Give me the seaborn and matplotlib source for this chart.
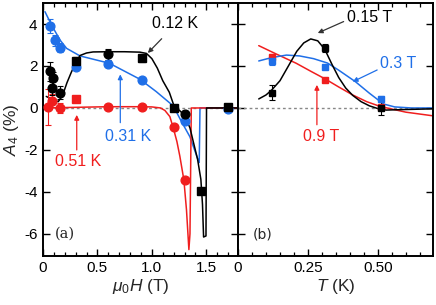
import numpy as np
import pandas as pd
import seaborn as sns
import matplotlib.pyplot as plt

# colours
BLACK = '#000000'
BLUE = '#1f6fe8'
RED = '#f01e1e'

# ---- panel (a): A4 vs field ----
# 0.12 K
blk_c_x = [0.06, 0.095, 0.08, 0.155, 0.60, 1.30]
blk_c_y = [1.75, 1.41, 0.94, 0.73, 2.55, -0.28]
blk_c_e = [0.45, 0.30, 0.30, 0.30, 0.25, 0.15]
blk_s_x = [0.30, 0.91, 1.20, 1.45, 1.70]
blk_s_y = [2.22, 2.38, 0.02, -3.98, 0.05]
blk_s_e = [0.20, 0.20, 0.10, 0.10, 0.10]
blk_fit_x = [0.03, 0.08, 0.14, 0.18, 0.22, 0.26, 0.30, 0.34, 0.40, 0.46, 0.60, 0.75,
             0.89, 0.95, 1.00, 1.05, 1.10, 1.16, 1.20, 1.25, 1.30, 1.35, 1.38, 1.42,
             1.45, 1.465, 1.475, 1.497, 1.502, 1.79]
blk_fit_y = [0.55, 0.42, 0.30, 0.60, 1.20, 1.70, 2.15, 2.50, 2.62, 2.67, 2.68, 2.68,
             2.66, 2.60, 2.35, 1.90, 1.30, 0.75, 0.15, -0.10, -0.35, -0.95, -1.60, -2.45,
             -3.40, -4.60, -6.15, -6.10, 0.0, 0.0]

# 0.31 K
blu_x = [0.06, 0.11, 0.16, 0.30, 0.60, 0.91, 1.30, 1.70]
blu_y = [3.90, 3.22, 2.88, 1.97, 2.10, 1.31, -0.62, -0.05]
blu_e = [0.35, 0.25, 0.20, 0.15, 0.10, 0.10, 0.10, 0.05]
blu_fit_x = [0.018, 0.06, 0.095, 0.156, 0.217, 0.34, 0.61, 0.89, 1.04, 1.196, 1.272,
             1.349, 1.425, 1.435, 1.442, 1.79]
blu_fit_y = [4.59, 4.15, 3.80, 3.24, 2.84, 2.48, 2.13, 1.37, 0.78, 0.10, -0.65,
             -1.37, -2.48, -2.60, 0.0, 0.0]

# 0.51 K
red_x = [0.05, 0.08, 0.155, 0.60, 0.91, 1.20, 1.30]
red_y = [0.05, 0.35, 0.0, 0.06, 0.06, -0.92, -3.45]
red_e = [0.85, 0.30, 0.25, 0.05, 0.05, 0.05, 0.05]
red_s_x = [0.30]
red_s_y = [0.45]
red_fit_x = [0.03, 0.30, 0.60, 0.90, 1.00, 1.08, 1.12, 1.165, 1.196, 1.23, 1.257,
             1.294, 1.318, 1.34, 1.35, 1.362, 1.79]
red_fit_y = [0.0, 0.03, 0.06, 0.06, 0.05, 0.0, -0.12, -0.41, -0.94, -1.60, -2.30,
             -3.43, -4.86, -6.75, -6.0, 0.0, 0.0]

# ---- panel (b): A4 vs temperature ----
t_pts = [0.12, 0.31, 0.51]
b015_y = [0.73, 2.87, 0.0]
b015_e = [0.35, 0.20, 0.35]
b03_y = [2.24, 1.97, 0.43]
b03_e = [0.20, 0.08, 0.15]
b09_y = [2.45, 1.33, 0.06]
b09_e = [0.10, 0.08, 0.10]

b015_fit_x = [0.074, 0.10, 0.12, 0.15, 0.18, 0.21, 0.235, 0.26, 0.285, 0.31, 0.335,
              0.36, 0.385, 0.41, 0.44, 0.47, 0.50, 0.53, 0.58, 0.70]
b015_fit_y = [0.43, 0.62, 0.85, 1.30, 2.00, 2.70, 3.10, 3.29, 3.20, 2.80, 2.10,
              1.45, 0.95, 0.60, 0.30, 0.10, -0.03, -0.10, -0.08, -0.04]
b03_fit_x = [0.074, 0.12, 0.173, 0.22, 0.27, 0.32, 0.36, 0.42, 0.47, 0.52, 0.56, 0.62, 0.70]
b03_fit_y = [2.24, 2.40, 2.52, 2.48, 2.35, 2.14, 1.80, 1.25, 0.70, 0.19, 0.05, 0.0, 0.0]
b09_fit_x = [0.074, 0.14, 0.208, 0.26, 0.312, 0.36, 0.41, 0.46, 0.509, 0.60, 0.70]
b09_fit_y = [2.97, 2.55, 2.13, 1.75, 1.38, 1.00, 0.62, 0.30, 0.07, -0.20, -0.38]

sns.set_style('ticks')
plt.rcParams['font.family'] = ['Liberation Sans', 'DejaVu Sans']
plt.rcParams['mathtext.fontset'] = 'custom'
plt.rcParams['mathtext.rm'] = 'Liberation Sans'
plt.rcParams['mathtext.it'] = 'Liberation Sans:italic'
plt.rcParams['axes.unicode_minus'] = False

fig = plt.figure(figsize=(4.36, 3.05), dpi=100)
axa = fig.add_axes([0.0986, 0.161, 0.447, 0.829])
axb = fig.add_axes([0.546, 0.161, 0.447, 0.829])


def fit(ax, x, y, c):
    d = pd.DataFrame({'x': x, 'y': y})
    sns.lineplot(data=d, x='x', y='y', ax=ax, color=c, lw=1.1, sort=False,
                 estimator=None)


def pts(ax, x, y, e, c, m, ms):
    ax.errorbar(x, y, yerr=e, fmt=m, color=c, ms=ms, elinewidth=0.8,
                capsize=2.2, capthick=0.8, zorder=4)


for ax in (axa, axb):
    ax.axhline(0, color='#888888', lw=1.0, ls=(0, (2, 2)), zorder=1)

fit(axa, blu_fit_x, blu_fit_y, BLUE)
fit(axa, red_fit_x, red_fit_y, RED)
fit(axa, blk_fit_x, blk_fit_y, BLACK)
pts(axa, blu_x, blu_y, blu_e, BLUE, 'o', 6.3)
pts(axa, red_x, red_y, red_e, RED, 'o', 6.3)
pts(axa, red_s_x, red_s_y, [0.0], RED, 's', 5.8)
pts(axa, blk_c_x, blk_c_y, blk_c_e, BLACK, 'o', 6.3)
pts(axa, blk_s_x, blk_s_y, blk_s_e, BLACK, 's', 5.8)

fit(axb, b09_fit_x, b09_fit_y, RED)
fit(axb, b03_fit_x, b03_fit_y, BLUE)
fit(axb, b015_fit_x, b015_fit_y, BLACK)
pts(axb, t_pts, b09_y, b09_e, RED, 's', 5)
pts(axb, t_pts, b03_y, b03_e, BLUE, 's', 5)
pts(axb, t_pts, b015_y, b015_e, BLACK, 's', 5)

# annotations
arr = dict(arrowstyle='-|>', lw=0.9, mutation_scale=7, shrinkA=0, shrinkB=0)
axa.text(1.0, 3.68, '0.12 K', fontsize=11.5, color=BLACK, ha='left', va='bottom')
axa.annotate('', xy=(0.963, 2.62), xytext=(1.09, 3.3),
             arrowprops=dict(arr, color='#333333'))
axa.annotate('', xy=(0.71, 1.6), xytext=(0.71, -0.7), arrowprops=dict(arr, color=BLUE))
axa.text(0.78, -1.35, '0.31 K', color=BLUE, fontsize=11.5, ha='center', va='center')
axa.annotate('', xy=(0.31, -0.33), xytext=(0.31, -2.0), arrowprops=dict(arr, color=RED))
axa.text(0.32, -2.57, '0.51 K', color=RED, fontsize=11.5, ha='center', va='center')
axa.text(0.11, -6.0, '(a)', fontsize=10.5, family='DejaVu Serif', va='center')

axb.annotate('0.15 T', xy=(0.285, 3.57), xytext=(0.47, 4.33), fontsize=11.5,
             color=BLACK, ha='center', va='center',
             arrowprops=dict(arr, color='#333333', relpos=(0.0, 0.3)))
axb.annotate('0.3 T', xy=(0.41, 1.25), xytext=(0.574, 2.1), fontsize=11.5,
             color=BLUE, ha='center', va='center',
             arrowprops=dict(arr, color=BLUE, relpos=(0.0, 0.2)))
axb.annotate('', xy=(0.282, 1.1), xytext=(0.282, -0.8), arrowprops=dict(arr, color=RED))
axb.text(0.296, -1.38, '0.9 T', color=RED, fontsize=11.5, ha='center', va='center')
axb.text(0.053, -6.05, '(b)', fontsize=10, family='DejaVu Sans', va='center')

# axes
axa.set_xlim(0, 1.79)
axb.set_xlim(0, 0.697)
for ax in (axa, axb):
    ax.set_ylim(-7.05, 5.0)
    ax.set_yticks([-6, -4, -2, 0, 2, 4])
    for s in ax.spines.values():
        s.set_visible(True)
        s.set_linewidth(1.4)
        s.set_color('black')
    ax.tick_params(which='both', direction='in', top=True, right=True,
                   colors='black', labelsize=11)
    ax.tick_params(which='major', length=5, width=1.0, pad=4)
    ax.tick_params(which='minor', length=3, width=0.9)
    ax.set_facecolor('white')

axa.set_xticks([0, 0.5, 1.0, 1.5])
axa.set_xticklabels(['0', '0.5', '1.0', '1.5'])
axa.set_xticks(np.arange(0, 1.79, 0.1), minor=True)
axb.set_xticks([0, 0.25, 0.5])
axb.set_xticklabels(['0', '0.25', '0.50'])
axb.set_xticks(np.arange(0, 0.7, 0.05), minor=True)
axb.tick_params(labelleft=False)

axa.set_xlabel(r'$\mu_0H$ (T)', fontsize=12.5, labelpad=1)
axb.set_xlabel(r'$T$ (K)', fontsize=12.5, labelpad=1)
axa.set_ylabel(r'$A_4$ (%)', fontsize=12.5, labelpad=2)
axb.set_ylabel('')

fig.savefig('out.png', dpi=100)
